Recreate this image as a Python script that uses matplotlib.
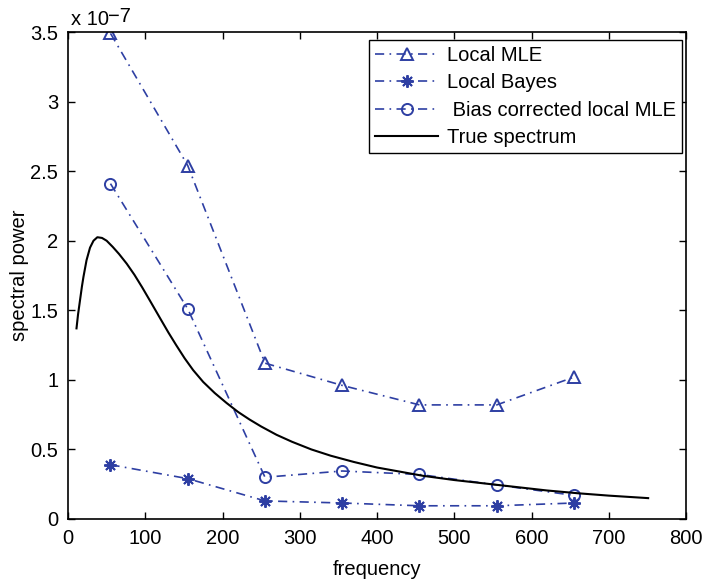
import matplotlib
matplotlib.use("Agg")
import matplotlib.pyplot as plt
import numpy as np

plt.rcParams['font.family'] = ['Liberation Sans', 'DejaVu Sans']

freq = [55, 155, 255, 355, 455, 555, 655]
local_mle = [3.49, 2.54, 1.12, 0.96, 0.82, 0.82, 1.02]
local_bayes = [0.39, 0.29, 0.13, 0.115, 0.095, 0.095, 0.115]
bias_corr = [2.41, 1.51, 0.30, 0.345, 0.32, 0.245, 0.17]

true_x = [11, 13, 15.5, 18, 20, 24, 28.5, 33, 38, 44, 50, 58, 66, 76, 86, 96, 106,
          119, 130, 140, 151, 162, 175, 190, 205, 220, 235, 250, 270, 290, 315,
          340, 370, 400, 430, 460, 500, 540, 580, 620, 660, 700, 751]
true_y = [1.37, 1.47, 1.57, 1.67, 1.74, 1.86, 1.95, 2.0, 2.025, 2.02, 2.0, 1.955,
          1.905, 1.835, 1.755, 1.665, 1.57, 1.445, 1.34, 1.25, 1.155, 1.07, 0.985, 0.905,
          0.835, 0.77, 0.715, 0.665, 0.605, 0.555, 0.50, 0.455, 0.41, 0.37, 0.34, 0.31,
          0.28, 0.255, 0.23, 0.205, 0.185, 0.168, 0.15]

yticks = [0, 0.5, 1, 1.5, 2, 2.5, 3, 3.5]
ytick_labels = ['0', '0.5', '1', '1.5', '2', '2.5', '3', '3.5']
xticks = [0, 100, 200, 300, 400, 500, 600, 700, 800]

blue = '#2E3FA3'
fs = 14.5
dash = (5.5, 3.2, 1, 3.2)

fig = plt.figure(figsize=(7.06, 5.84), dpi=100)
ax = fig.add_axes([68/706, 65/584, 618/706, 487/584])

ax.plot(freq, local_mle, linestyle=(0, dash), color=blue, lw=1.2, marker='^',
        markersize=8, markerfacecolor='none', markeredgecolor=blue, markeredgewidth=1.4,
        label='Local MLE')
ax.plot(freq, local_bayes, linestyle=(0, dash), color=blue, lw=1.2, marker=(8, 2, 0),
        markersize=9, markerfacecolor=blue, markeredgecolor=blue, markeredgewidth=1.4,
        label='Local Bayes')
ax.plot(freq, bias_corr, linestyle=(0, dash), color=blue, lw=1.2, marker='o',
        markersize=8, markerfacecolor='none', markeredgecolor=blue, markeredgewidth=1.4,
        label=' Bias corrected local MLE')
ax.plot(true_x, true_y, color='black', lw=1.5, label='True spectrum')

ax.set_xlim(0, 800)
ax.set_ylim(0, 3.5)
ax.set_xticks(xticks)
ax.set_xticklabels([str(v) for v in xticks])
ax.set_yticks(yticks)
ax.set_yticklabels(ytick_labels)
ax.tick_params(direction='in', top=True, right=True, length=5, width=1,
               labelsize=fs, pad=7)
for s in ax.spines.values():
    s.set_linewidth(1.2)

ax.set_xlabel('frequency', fontsize=fs, labelpad=9)
ax.set_ylabel('spectral power', fontsize=fs, labelpad=1)
fig.text(71/706, 1 - 25/584, 'x 10', fontsize=fs, ha='left', va='baseline')
fig.text(108/706, 1 - 22/584, '\u22127', fontsize=fs, ha='left', va='baseline')

leg = ax.legend(loc='upper right', bbox_to_anchor=(0.9935, 0.9836), borderaxespad=0,
                fontsize=fs, fancybox=False, framealpha=1, edgecolor='black',
                handlelength=3.1, handletextpad=0.45, borderpad=0.3, labelspacing=0.42)
leg.get_frame().set_linewidth(1.0)

fig.savefig('out.png', dpi=100)
